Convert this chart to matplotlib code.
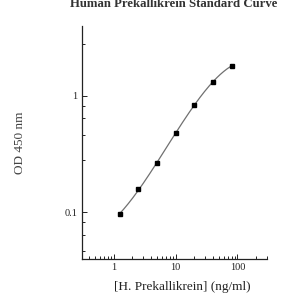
import numpy as np
import matplotlib
matplotlib.use("Agg")
import matplotlib.pyplot as plt
from matplotlib.ticker import FixedLocator, NullFormatter, FixedFormatter

# Data
conc = [1.25, 2.5, 5, 10, 20, 40, 80]
od = [0.097, 0.157, 0.262, 0.481, 0.832, 1.31, 1.80]
title = "Human Prekallikrein Standard Curve"
xlabel = "[H. Prekallikrein] (ng/ml)"
ylabel = "OD 450 nm"
x_major = [1, 10, 100]
x_major_labels = ["1", "10", "100"]
y_major = [0.1, 1]
y_major_labels = ["0.1", "1"]
y_minor = [0.046, 0.064, 0.082, 0.28, 0.46, 0.64, 0.82, 2.8]

plt.rcParams['font.family'] = ['Liberation Serif', 'DejaVu Serif']

fig = plt.figure(figsize=(3, 3), dpi=100)
ax = fig.add_axes([81.5/300, 1-258.5/300, (267-81.5)/300, (258.5-25.5)/300])

# smooth fitted curve in log-log space
lx = np.log10(conc)
ly = np.log10(od)
coef = np.polyfit(lx, ly, 3)
xs = np.linspace(lx[0], lx[-1], 200)
ax.plot(10**xs, 10**np.polyval(coef, xs), color='#707070', lw=0.9, zorder=2)
ax.plot(conc, od, ls='none', marker='s', ms=3.0, color='black', zorder=3)

ax.set_xscale('log')
ax.set_yscale('log')
ax.set_xlim(0.3, 300)
ax.set_ylim(0.04, 4)

ax.xaxis.set_major_locator(FixedLocator(x_major))
ax.xaxis.set_major_formatter(FixedFormatter(x_major_labels))
xminor = [m * 10.0**e for e in range(-1, 3) for m in range(2, 10)]
ax.xaxis.set_minor_locator(FixedLocator(xminor))
ax.xaxis.set_minor_formatter(NullFormatter())
ax.yaxis.set_major_locator(FixedLocator(y_major))
ax.yaxis.set_major_formatter(FixedFormatter(y_major_labels))
ax.yaxis.set_minor_locator(FixedLocator(y_minor))
ax.yaxis.set_minor_formatter(NullFormatter())

for s in ['top', 'right']:
    ax.spines[s].set_visible(False)
for s in ['left', 'bottom']:
    ax.spines[s].set_linewidth(0.9)
    ax.spines[s].set_color('#222222')

ax.tick_params(which='both', direction='in', labelsize=7.5, colors='#222222', width=0.7)
ax.tick_params(which='major', length=3.5, pad=3)
ax.tick_params(which='minor', length=2.2)

fig.text(174/300, 1-7/300, title, ha='center', va='baseline', fontsize=9.2, fontweight='bold', color='#333333')
fig.text(182.5/300, 1-286.7/300, xlabel, ha='center', va='center', fontsize=9.5, color='#222222')
fig.text(20/300, 1-142.5/300, ylabel, ha='center', va='center', rotation=90, fontsize=9.5, color='#444444')

fig.savefig('out.png', dpi=100)
